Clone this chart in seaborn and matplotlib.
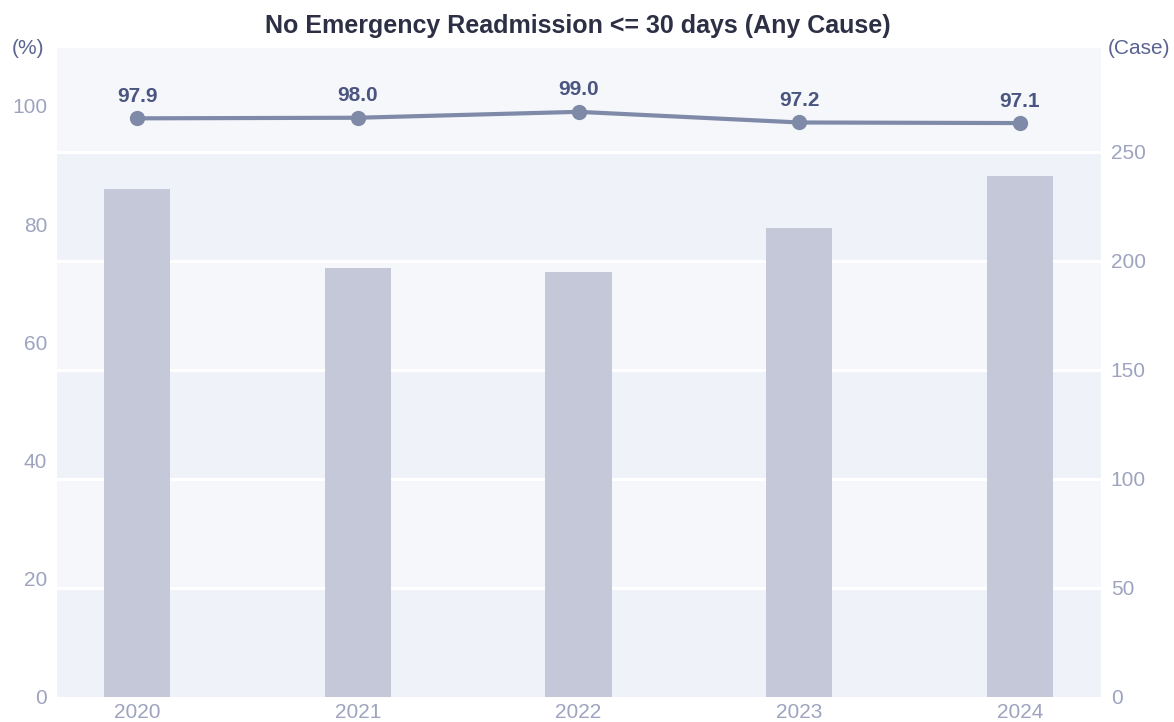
import matplotlib
matplotlib.use("Agg")
import matplotlib.pyplot as plt
import seaborn as sns
import pandas as pd
import numpy as np

years = ["2020", "2021", "2022", "2023", "2024"]
cases = [233, 197, 195, 215, 239]
rates = [97.9, 98.0, 99.0, 97.2, 97.1]
title = "No Emergency Readmission <= 30 days (Any Cause)"
case_ticks = [0, 50, 100, 150, 200, 250]
pct_ticks = [0, 20, 40, 60, 80, 100]

sns.set_theme(style="white")
plt.rcParams["font.family"] = ["Liberation Sans", "DejaVu Sans"]

df = pd.DataFrame({"year": years, "cases": cases, "rate": rates})

fig = plt.figure(figsize=(11.74, 7.22), dpi=100)
ax_case = fig.add_axes([57/1174, 25/722, 1044/1174, 649/722])
ax_pct = ax_case.twinx()

# background bands
ax_case.set_facecolor("#f6f7fb")
band_edges = case_ticks + [400]
for i in range(len(band_edges) - 1):
    col = "#eff2f8" if i % 2 == 0 else "#f6f7fb"
    ax_case.axhspan(band_edges[i], band_edges[i + 1], color=col, zorder=0, lw=0)
for t in case_ticks[1:]:
    ax_case.axhline(t, color="white", lw=2.2, zorder=1)

sns.barplot(data=df, x="year", y="cases", ax=ax_case, color="#c5c8d8",
            width=0.3, saturation=1, zorder=2)
for p in ax_case.patches:
    p.set_edgecolor("none")

ax_case.set_ylim(0, 297.7)
ax_case.set_xlim(-0.3625, 4.367)
ax_case.yaxis.tick_right()
ax_case.yaxis.set_label_position("right")
ax_case.set_yticks(case_ticks)
ax_case.set_xlabel("")
ax_case.set_ylabel("")

sns.lineplot(data=df, x="year", y="rate", ax=ax_pct, color="#7f8aa8",
             marker="o", markersize=11, linewidth=3, markeredgewidth=0,
             sort=False)
ax_pct.set_ylim(0, 109.8)
ax_pct.yaxis.tick_left()
ax_pct.set_yticks(pct_ticks)
ax_pct.set_ylabel("")
ax_pct.set_xlabel("")
for i, v in enumerate(rates):
    ax_pct.annotate(f"{v:.1f}", (i, v), xytext=(0, 9), textcoords="offset points",
                    ha="center", va="bottom", fontsize=15, fontweight="bold",
                    color="#4a5580")

for a in (ax_case, ax_pct):
    for s in a.spines.values():
        s.set_visible(False)
    a.tick_params(axis="both", length=0, labelsize=15, labelcolor="#9ea3bf", pad=7)
    a.grid(False)
ax_case.tick_params(axis="x", pad=4)

fig.text(28/1174, 1 - 48/722, "(%)", ha="center", va="center", fontsize=15, color="#5a6390")
fig.text(1139/1174, 1 - 48/722, "(Case)", ha="center", va="center", fontsize=15, color="#5a6390")
fig.text(578/1174, 1 - 26/722, title, ha="center", va="center", fontsize=18,
         fontweight="bold", color="#2d2f45")

fig.savefig("out.png", dpi=100)
